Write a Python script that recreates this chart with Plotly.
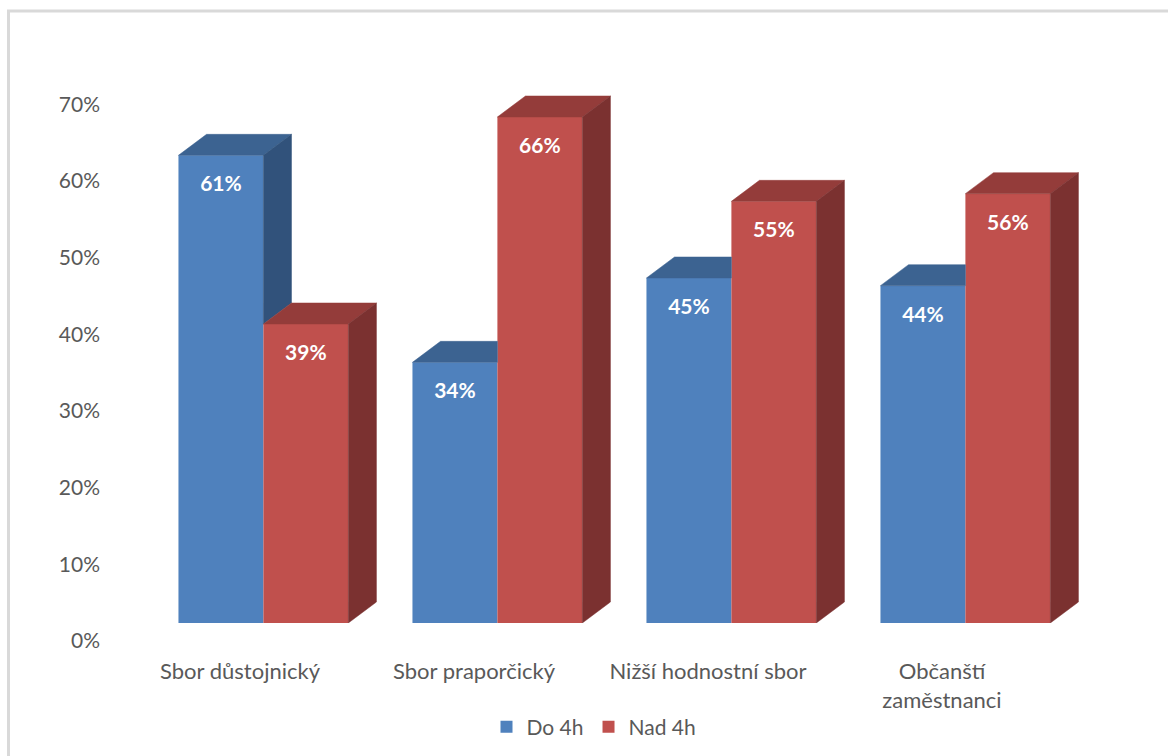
import plotly.graph_objects as go

categories = ["Sbor důstojnický", "Sbor praporčický", "Nižší hodnostní sbor", "Občanští<br>zaměstnanci"]
series_names = ["Do 4h", "Nad 4h"]
do_4h = [0.61, 0.34, 0.45, 0.44]
nad_4h = [0.39, 0.66, 0.55, 0.56]
y_ticks = [0, 0.1, 0.2, 0.3, 0.4, 0.5, 0.6, 0.7]

# style
FRONT = ["#4F81BD", "#C0504D"]
TOP = ["#3C6391", "#943C3A"]
SIDE = ["#31527B", "#7B3130"]
FONT = "Lato"
GRAY = "#595959"

W, H = 1168, 756
ML, MR, MT, MB = 110, 68, 48, 133
PW = W - ML - MR
PH = H - MT - MB

def px_x(p):
    return (p - ML) / PW

def px_y(p):
    return (H - MB - p) / PH

bar_w = 0.363
shift = 0.1              # front faces sit right of the label positions
dx, dy = 0.12, 0.0274    # depth of the 3D extrusion in data units
xpos = list(range(len(categories)))
offsets = [shift - bar_w, shift]
series = [do_4h, nad_4h]

fig = go.Figure()

# front faces
for k, vals in enumerate(series):
    fig.add_trace(go.Bar(
        x=xpos, y=vals, width=bar_w, offset=offsets[k], name=series_names[k],
        marker=dict(color=FRONT[k], line=dict(width=0)), hoverinfo="skip"))

def poly(xs, ys, color):
    fig.add_trace(go.Scatter(
        x=xs + xs[:1], y=ys + ys[:1], fill="toself", fillcolor=color, mode="lines",
        line=dict(width=0.5, color=color), showlegend=False, hoverinfo="skip"))

# top and side faces (blue ones clipped where the red bar in front hides them)
for i, xi in enumerate(xpos):
    vb, vr = do_4h[i], nad_4h[i]
    # blue
    x0 = xi + offsets[0]
    x1 = x0 + bar_w
    if vr > vb:
        poly([x0, x1, x1, x0 + dx], [vb, vb, vb + dy, vb + dy], TOP[0])
    else:
        poly([x0, x1, x1 + dx, x0 + dx], [vb, vb, vb + dy, vb + dy], TOP[0])
        poly([x1, x1 + dx, x1 + dx, x1], [vr, vr + dy, vb + dy, vb], SIDE[0])
    # red
    x0 = xi + offsets[1]
    x1 = x0 + bar_w
    poly([x0, x1, x1 + dx, x0 + dx], [vr, vr, vr + dy, vr + dy], TOP[1])
    poly([x1, x1 + dx, x1 + dx, x1], [0, dy, vr + dy, vr], SIDE[1])

# data labels
for k, vals in enumerate(series):
    fig.add_trace(go.Scatter(
        x=[xi + offsets[k] + bar_w / 2 for xi in xpos], y=[v - 0.04 for v in vals],
        mode="text", text=[f"{round(v * 100)}%" for v in vals],
        textfont=dict(family=FONT, size=21, color="white", weight="bold"),
        showlegend=False, hoverinfo="skip"))

fig.update_layout(
    width=W, height=H,
    margin=dict(l=ML, r=MR, t=MT, b=MB, autoexpand=False),
    paper_bgcolor="white", plot_bgcolor="white",
    showlegend=True,
    legend=dict(orientation="h", x=px_x(594), xanchor="center", y=px_y(727), yanchor="middle",
                font=dict(family=FONT, size=21, color=GRAY), traceorder="normal"),
    xaxis=dict(range=[(ML - 240) / 234, (ML + PW - 240) / 234],
               tickvals=xpos, ticktext=categories, showgrid=False, zeroline=False,
               showline=False, ticks="", ticklabelstandoff=33, fixedrange=True,
               tickfont=dict(family=FONT, size=22, color=GRAY)),
    yaxis=dict(range=[0, 0.75], tickvals=y_ticks, tickformat=".0%",
               showgrid=False, zeroline=False, showline=False, ticks="",
               ticklabelstandoff=9, ticklabelshift=18, fixedrange=True,
               tickfont=dict(family=FONT, size=21, color=GRAY)),
    shapes=[dict(type="rect", xref="paper", yref="paper",
                 x0=px_x(8.5), x1=px_x(1200), y0=px_y(800), y1=px_y(11),
                 line=dict(color="#D9D9D9", width=3), fillcolor="rgba(0,0,0,0)", layer="below")],
)

fig.write_html("out.html", config={"displayModeBar": False},
               post_script="document.body.style.margin='0px';")
